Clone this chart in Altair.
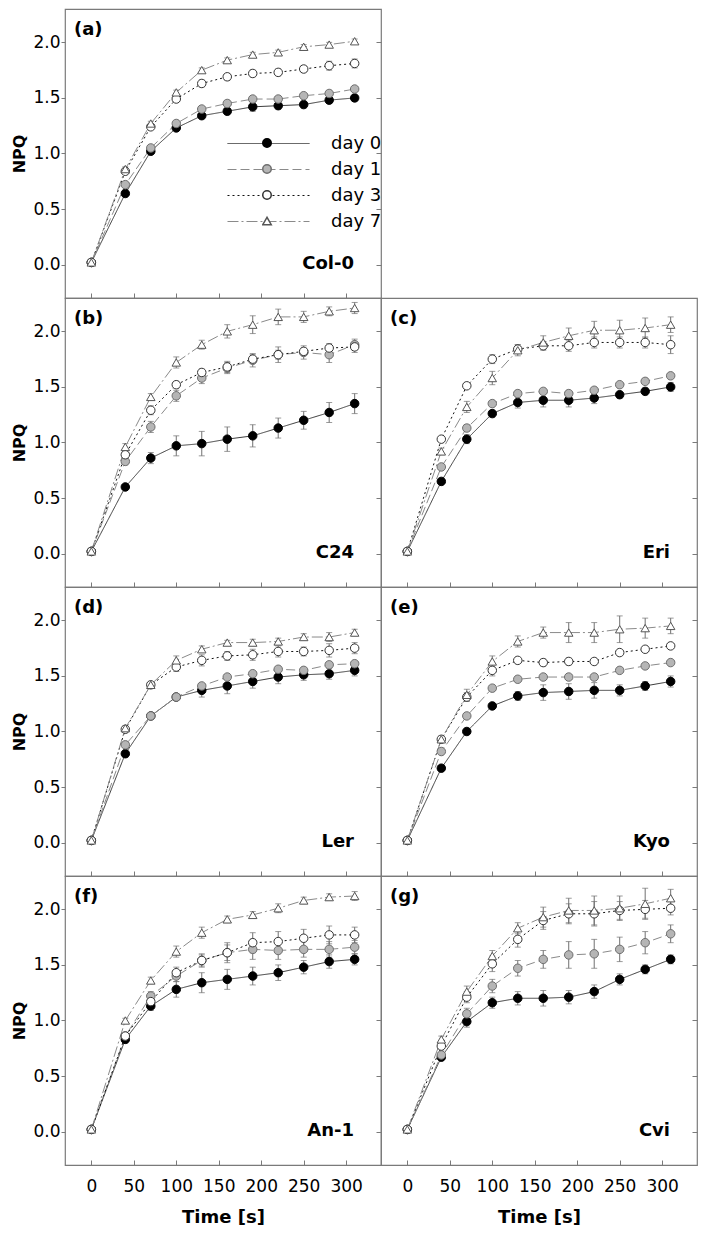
import altair as alt
import pandas as pd

# ---------------- data ----------------
time_s = [0, 40, 70, 100, 130, 160, 190, 220, 250, 280, 310]
series = ["day 0", "day 1", "day 3", "day 7"]
panel_letters = ["(a)", "(b)", "(c)", "(d)", "(e)", "(f)", "(g)"]
accessions = ["Col-0", "C24", "Eri", "Ler", "Kyo", "An-1", "Cvi"]
y_ticks = [0.0, 0.5, 1.0, 1.5, 2.0]
x_ticks = [0, 50, 100, 150, 200, 250, 300]

col0_day0 = [0.02, 0.64, 1.02, 1.23, 1.34, 1.38, 1.42, 1.43, 1.44, 1.48, 1.50]
col0_day1 = [0.02, 0.72, 1.05, 1.27, 1.40, 1.45, 1.49, 1.49, 1.52, 1.54, 1.58]
col0_day3 = [0.02, 0.84, 1.24, 1.49, 1.63, 1.69, 1.72, 1.73, 1.76, 1.79, 1.81]
col0_day7 = [0.02, 0.86, 1.27, 1.55, 1.75, 1.84, 1.89, 1.91, 1.96, 1.98, 2.01]

c24_day0 = [0.02, 0.60, 0.86, 0.97, 0.99, 1.03, 1.06, 1.13, 1.20, 1.27, 1.35]
c24_day1 = [0.02, 0.83, 1.14, 1.42, 1.58, 1.67, 1.74, 1.79, 1.81, 1.79, 1.88]
c24_day3 = [0.02, 0.89, 1.29, 1.52, 1.63, 1.68, 1.75, 1.79, 1.82, 1.85, 1.86]
c24_day7 = [0.02, 0.96, 1.41, 1.72, 1.88, 2.00, 2.06, 2.13, 2.13, 2.18, 2.21]

eri_day0 = [0.02, 0.65, 1.03, 1.26, 1.36, 1.38, 1.38, 1.40, 1.43, 1.46, 1.50]
eri_day1 = [0.02, 0.78, 1.13, 1.35, 1.44, 1.46, 1.44, 1.47, 1.52, 1.55, 1.60]
eri_day3 = [0.02, 1.03, 1.51, 1.75, 1.84, 1.87, 1.87, 1.90, 1.90, 1.90, 1.88]
eri_day7 = [0.02, 0.92, 1.32, 1.58, 1.83, 1.90, 1.96, 2.01, 2.01, 2.03, 2.06]

ler_day0 = [0.02, 0.80, 1.14, 1.31, 1.37, 1.41, 1.45, 1.49, 1.51, 1.52, 1.55]
ler_day1 = [0.02, 0.88, 1.14, 1.31, 1.41, 1.49, 1.52, 1.56, 1.55, 1.60, 1.61]
ler_day3 = [0.02, 1.02, 1.42, 1.58, 1.64, 1.68, 1.69, 1.72, 1.72, 1.73, 1.75]
ler_day7 = [0.02, 1.03, 1.42, 1.64, 1.74, 1.80, 1.80, 1.81, 1.85, 1.85, 1.89]

kyo_day0 = [0.02, 0.67, 1.00, 1.23, 1.32, 1.35, 1.36, 1.37, 1.37, 1.41, 1.45]
kyo_day1 = [0.02, 0.82, 1.14, 1.39, 1.47, 1.49, 1.49, 1.49, 1.55, 1.59, 1.62]
kyo_day3 = [0.02, 0.93, 1.31, 1.55, 1.64, 1.62, 1.63, 1.63, 1.71, 1.74, 1.77]
kyo_day7 = [0.02, 0.93, 1.33, 1.63, 1.81, 1.89, 1.89, 1.89, 1.92, 1.93, 1.95]

an1_day0 = [0.02, 0.83, 1.13, 1.28, 1.34, 1.37, 1.40, 1.43, 1.48, 1.53, 1.55]
an1_day1 = [0.02, 0.86, 1.22, 1.40, 1.54, 1.61, 1.64, 1.63, 1.64, 1.64, 1.66]
an1_day3 = [0.02, 0.86, 1.17, 1.43, 1.54, 1.61, 1.70, 1.71, 1.74, 1.77, 1.77]
an1_day7 = [0.02, 1.00, 1.36, 1.62, 1.79, 1.91, 1.95, 2.01, 2.08, 2.11, 2.12]

cvi_day0 = [0.02, 0.67, 0.99, 1.16, 1.20, 1.20, 1.21, 1.26, 1.37, 1.46, 1.55]
cvi_day1 = [0.02, 0.69, 1.06, 1.31, 1.47, 1.55, 1.59, 1.60, 1.64, 1.70, 1.78]
cvi_day3 = [0.02, 0.77, 1.21, 1.51, 1.73, 1.90, 1.96, 1.96, 1.99, 2.00, 2.01]
cvi_day7 = [0.02, 0.83, 1.26, 1.58, 1.83, 1.93, 1.99, 1.99, 2.01, 2.05, 2.10]

# standard errors (half length of the error bars)
col0_err0 = [0.01, 0.02, 0.02, 0.02, 0.02, 0.03, 0.04, 0.03, 0.03, 0.03, 0.03]
col0_err1 = [0.01, 0.02, 0.02, 0.02, 0.02, 0.02, 0.02, 0.02, 0.02, 0.02, 0.02]
col0_err3 = [0.01, 0.02, 0.02, 0.02, 0.03, 0.03, 0.03, 0.03, 0.03, 0.04, 0.04]
col0_err7 = [0.01, 0.02, 0.02, 0.02, 0.02, 0.02, 0.02, 0.02, 0.02, 0.02, 0.02]

c24_err0 = [0.01, 0.02, 0.05, 0.09, 0.11, 0.11, 0.10, 0.09, 0.08, 0.09, 0.09]
c24_err1 = [0.01, 0.03, 0.05, 0.05, 0.05, 0.05, 0.06, 0.07, 0.06, 0.07, 0.05]
c24_err3 = [0.01, 0.03, 0.04, 0.03, 0.03, 0.05, 0.04, 0.04, 0.03, 0.04, 0.05]
c24_err7 = [0.01, 0.03, 0.03, 0.05, 0.04, 0.06, 0.08, 0.07, 0.05, 0.04, 0.05]

eri_err0 = [0.01, 0.02, 0.04, 0.03, 0.05, 0.06, 0.06, 0.05, 0.03, 0.03, 0.04]
eri_err1 = [0.01, 0.02, 0.03, 0.02, 0.02, 0.02, 0.02, 0.02, 0.02, 0.02, 0.02]
eri_err3 = [0.01, 0.02, 0.02, 0.04, 0.04, 0.04, 0.05, 0.05, 0.05, 0.05, 0.08]
eri_err7 = [0.01, 0.03, 0.05, 0.06, 0.05, 0.06, 0.07, 0.08, 0.09, 0.09, 0.07]

ler_err0 = [0.01, 0.03, 0.03, 0.03, 0.06, 0.07, 0.06, 0.06, 0.05, 0.05, 0.05]
ler_err1 = [0.01, 0.02, 0.02, 0.02, 0.02, 0.02, 0.02, 0.02, 0.02, 0.02, 0.02]
ler_err3 = [0.01, 0.02, 0.02, 0.04, 0.05, 0.04, 0.05, 0.05, 0.04, 0.06, 0.05]
ler_err7 = [0.01, 0.02, 0.02, 0.04, 0.03, 0.02, 0.03, 0.03, 0.03, 0.04, 0.03]

kyo_err0 = [0.01, 0.02, 0.02, 0.02, 0.04, 0.07, 0.07, 0.07, 0.05, 0.04, 0.05]
kyo_err1 = [0.01, 0.02, 0.02, 0.02, 0.02, 0.02, 0.02, 0.02, 0.02, 0.02, 0.02]
kyo_err3 = [0.01, 0.02, 0.04, 0.05, 0.02, 0.03, 0.03, 0.02, 0.02, 0.02, 0.02]
kyo_err7 = [0.01, 0.03, 0.05, 0.05, 0.05, 0.05, 0.09, 0.09, 0.12, 0.09, 0.07]

an1_err0 = [0.01, 0.03, 0.04, 0.07, 0.09, 0.09, 0.08, 0.07, 0.06, 0.06, 0.05]
an1_err1 = [0.01, 0.02, 0.04, 0.05, 0.06, 0.07, 0.09, 0.08, 0.07, 0.07, 0.06]
an1_err3 = [0.01, 0.02, 0.04, 0.05, 0.05, 0.09, 0.09, 0.09, 0.08, 0.08, 0.07]
an1_err7 = [0.01, 0.02, 0.03, 0.05, 0.05, 0.03, 0.03, 0.04, 0.03, 0.03, 0.04]

cvi_err0 = [0.01, 0.02, 0.05, 0.05, 0.06, 0.07, 0.06, 0.06, 0.05, 0.04, 0.04]
cvi_err1 = [0.01, 0.02, 0.05, 0.06, 0.07, 0.08, 0.12, 0.13, 0.11, 0.10, 0.08]
cvi_err3 = [0.01, 0.02, 0.05, 0.07, 0.07, 0.08, 0.09, 0.11, 0.08, 0.08, 0.06]
cvi_err7 = [0.01, 0.03, 0.05, 0.05, 0.05, 0.09, 0.11, 0.13, 0.11, 0.14, 0.08]

means = {
    "Col-0": [col0_day0, col0_day1, col0_day3, col0_day7],
    "C24": [c24_day0, c24_day1, c24_day3, c24_day7],
    "Eri": [eri_day0, eri_day1, eri_day3, eri_day7],
    "Ler": [ler_day0, ler_day1, ler_day3, ler_day7],
    "Kyo": [kyo_day0, kyo_day1, kyo_day3, kyo_day7],
    "An-1": [an1_day0, an1_day1, an1_day3, an1_day7],
    "Cvi": [cvi_day0, cvi_day1, cvi_day3, cvi_day7],
}
errors = {
    "Col-0": [col0_err0, col0_err1, col0_err3, col0_err7],
    "C24": [c24_err0, c24_err1, c24_err3, c24_err7],
    "Eri": [eri_err0, eri_err1, eri_err3, eri_err7],
    "Ler": [ler_err0, ler_err1, ler_err3, ler_err7],
    "Kyo": [kyo_err0, kyo_err1, kyo_err3, kyo_err7],
    "An-1": [an1_err0, an1_err1, an1_err3, an1_err7],
    "Cvi": [cvi_err0, cvi_err1, cvi_err3, cvi_err7],
}

rows = []
for acc in accessions:
    for s, m, e in zip(series, means[acc], errors[acc]):
        for t, v, ev in zip(time_s, m, e):
            rows.append({"accession": acc, "series": s, "series_m": s,
                         "time": t, "npq": v,
                         "lo": round(v - ev, 3), "hi": round(v + ev, 3)})
df = pd.DataFrame(rows)

# ---------------- styling ----------------
W, H = 316, 289
FONT = "DejaVu Sans"
BORDER = "#7a7a7a"
x_scale = alt.Scale(domain=[-31, 341], nice=False, zero=False)
y_scale = alt.Scale(domain=[-0.3, 2.3], nice=False, zero=False)

# ranges follow the sorted series order: day 0, day 1, day 3, day 7
line_colors = ["#3a3a3a", "#8a8a8a", "#111111", "#8a8a8a"]
line_dashes = [[1, 0], [9, 4], [2, 3], [11, 3, 2, 3]]
line_widths = [1.0, 1.0, 2.2, 1.0]
marker_shapes = ["circle", "circle", "circle", "triangle-up"]
marker_fills = ["#000000", "#b5b5b5", "#ffffff", "#ffffff"]
marker_strokes = ["#000000", "#6e6e6e", "#333333", "#555555"]
marker_sizes = [72, 72, 72, 121]

# legend sample line: 82 px long, symbol size 676 -> unit = 13 px
LEG_PATH = "M-3.154,0H3.154"


def panel(i, left_col, bottom_row):
    acc = accessions[i]
    show_legend = (i == 0)
    data = df[df.accession == acc]
    base = alt.Chart(data)

    x_axis = alt.Axis(orient="bottom", values=x_ticks, tickSize=alt.ExprRef("-5"),
                      domain=False, grid=False, labels=bottom_row,
                      labelPadding=18, titlePadding=14, titleFontSize=18)
    y_left = alt.Axis(orient="left", values=y_ticks, format=".1f", tickSize=4,
                      labelPadding=1, domain=False, grid=False, titlePadding=5,
                      titleFontSize=16)
    y_right = alt.Axis(orient="right", values=y_ticks, tickSize=alt.ExprRef("-5"),
                       labels=False, domain=False, grid=False, title=None)

    line_legend = alt.Legend(orient="none", legendX=190, legendY=121, direction="vertical",
                             title=None, symbolType=LEG_PATH, symbolSize=676,
                             rowPadding=3, labelOffset=49,
                             labelFont=FONT, labelFontSize=18, labelColor="#000000",
                             symbolOpacity=1, padding=0) if show_legend else None
    marker_legend = alt.Legend(orient="none", legendX=197, legendY=121, direction="vertical",
                               title=None, clipHeight=26, rowPadding=0, labelExpr="''",
                               symbolOpacity=1, padding=0) if show_legend else None

    bars = base.mark_rule(color="#707070", strokeWidth=1).encode(
        x=alt.X("time:Q", scale=x_scale, axis=None),
        y=alt.Y("lo:Q", scale=y_scale, axis=None),
        y2="hi:Q",
    )
    caps_lo = base.mark_tick(orient="horizontal", size=6, thickness=1, color="#707070").encode(
        x=alt.X("time:Q", scale=x_scale, axis=None),
        y=alt.Y("lo:Q", scale=y_scale, axis=None),
    )
    caps_hi = base.mark_tick(orient="horizontal", size=6, thickness=1, color="#707070").encode(
        x=alt.X("time:Q", scale=x_scale, axis=None),
        y=alt.Y("hi:Q", scale=y_scale, axis=None),
    )
    lines = base.mark_line(strokeCap="butt").encode(
        x=alt.X("time:Q", scale=x_scale, axis=x_axis,
                title="Time [s]" if bottom_row else None),
        y=alt.Y("npq:Q", scale=y_scale, axis=y_left if left_col else None,
                title="NPQ" if left_col else None),
        color=alt.Color("series:N", scale=alt.Scale(range=line_colors), legend=line_legend),
        strokeDash=alt.StrokeDash("series:N", scale=alt.Scale(range=line_dashes),
                                  legend=line_legend),
        strokeWidth=alt.StrokeWidth("series:N", scale=alt.Scale(range=line_widths),
                                    legend=line_legend),
    )
    points = base.mark_point(filled=True, opacity=1, strokeWidth=1).encode(
        x=alt.X("time:Q", scale=x_scale, axis=None),
        y=alt.Y("npq:Q", scale=y_scale, axis=y_right),
        shape=alt.Shape("series_m:N", scale=alt.Scale(range=marker_shapes),
                        legend=marker_legend),
        fill=alt.Fill("series_m:N", scale=alt.Scale(range=marker_fills),
                      legend=marker_legend),
        stroke=alt.Stroke("series_m:N", scale=alt.Scale(range=marker_strokes),
                          legend=marker_legend),
        size=alt.Size("series_m:N", scale=alt.Scale(range=marker_sizes),
                      legend=marker_legend),
    )
    letter = alt.Chart(pd.DataFrame({"t": [panel_letters[i]]})).mark_text(
        align="left", baseline="middle", font=FONT, fontSize=18, fontWeight="bold",
        color="#000000").encode(text="t:N", x=alt.value(9), y=alt.value(21))
    name = alt.Chart(pd.DataFrame({"t": [acc]})).mark_text(
        align="right", baseline="middle", font=FONT, fontSize=18, fontWeight="bold",
        color="#000000").encode(text="t:N", x=alt.value(W - 27), y=alt.value(255))

    return alt.layer(lines, bars, caps_lo, caps_hi, points, letter, name
                     ).resolve_axis(x="independent", y="independent"
                     ).properties(width=W, height=H)


placeholder = alt.Chart(pd.DataFrame({"v": [0]})).mark_point(opacity=0).encode(
    x=alt.X("v:Q", axis=None), y=alt.Y("v:Q", axis=None)
).properties(width=W, height=H, view=alt.ViewBackground(strokeOpacity=0))

charts = [
    panel(0, True, False), placeholder,
    panel(1, True, False), panel(2, False, False),
    panel(3, True, False), panel(4, False, False),
    panel(5, True, True), panel(6, False, True),
]

chart = alt.concat(*charts, columns=2, spacing=0, bounds="flush").properties(
    padding={"left": 3, "top": 0, "right": 0, "bottom": 0}
).configure_view(
    stroke=BORDER, strokeWidth=1.2
).configure_axis(
    labelFont=FONT, labelFontSize=17, labelColor="#000000",
    tickColor=BORDER, tickWidth=1,
    titleFont=FONT, titleFontWeight="bold", titleColor="#000000",
)

chart.save("out.html", embed_options={"renderer": "svg", "actions": False})
